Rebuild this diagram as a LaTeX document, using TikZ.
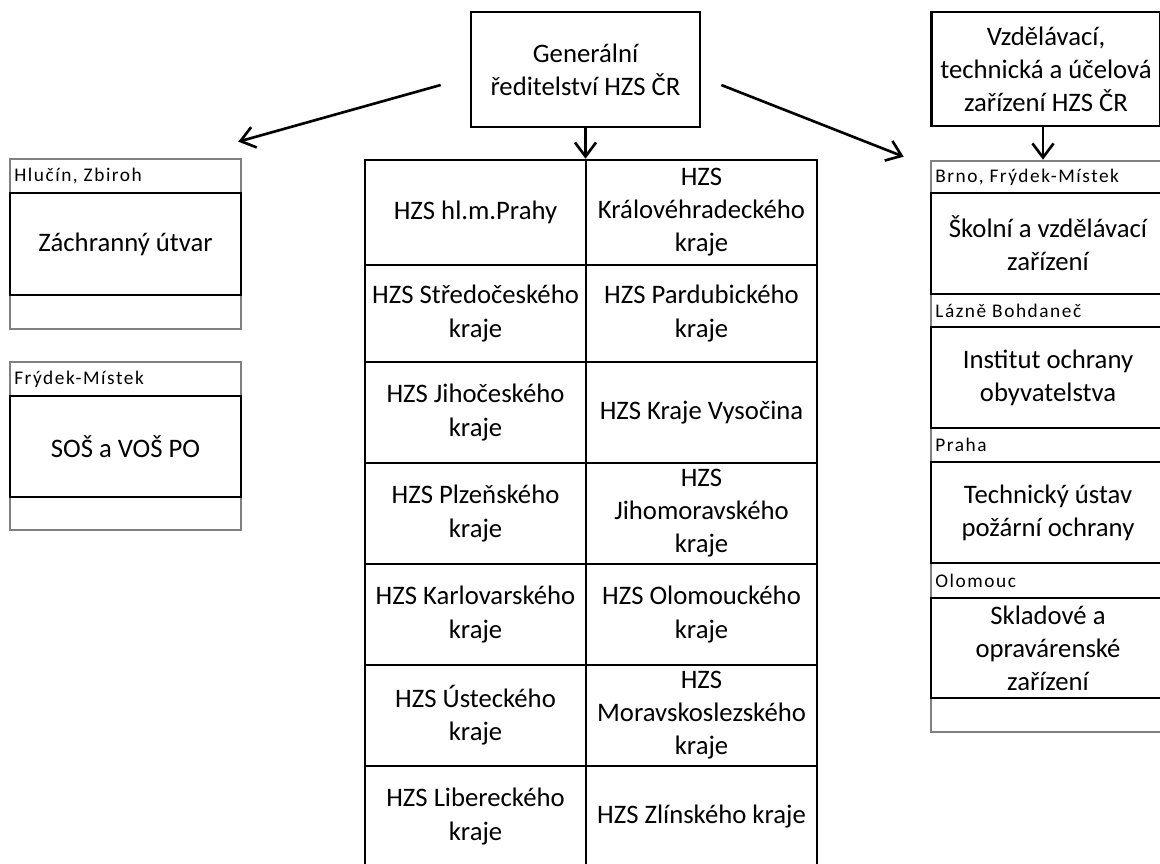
\documentclass[tikz,border=0pt]{standalone}
\usepackage{fontspec}
\setmainfont{Carlito}
\usetikzlibrary{arrows.meta,calc}
\definecolor{outl}{RGB}{128,128,128}
\begin{document}
\begin{tikzpicture}[x=0.02cm,y=-0.02cm,
  box/.style 2 args={draw=black,line width=1.5pt,align=center,inner sep=0pt,
    minimum width=#1*0.02cm,minimum height=#2*0.02cm,
    font=\fontsize{15.2}{18.8}\selectfont},
  outer/.style 2 args={draw=outl,line width=1.5pt,inner sep=0pt,
    minimum width=#1*0.02cm,minimum height=#2*0.02cm},
  lbl/.style={anchor=west,inner sep=0pt,font=\fontsize{11}{13}\selectfont\addfontfeatures{LetterSpace=8}},
  arr/.style={line width=1.5pt,-{Straight Barb[length=8pt,width=12pt]}}]
\useasboundingbox (0,0) rectangle (1160,863);
\clip (0,0) rectangle (1160,863);

% top boxes
\node[box={229}{115}] (gen) at (585.5,69.5) {Generální\\ředitelství HZS ČR};
\node[box={229}{114}] (vzd) at (1046,69) {Vzdělávací,\\technická a účelová\\zařízení HZS ČR};

% left column
\node[outer={231}{170}] (zbo) at (125.5,244) {};
\node[box={231}{102}] (zb) at (125.5,244) {Záchranný útvar};
\node[lbl] (zbh) at (14,176.5) {Hlučín, Zbiroh};

\node[outer={231}{168}] (sso) at (125.5,446) {};
\node[box={231}{101}] (ss) at (125.5,446.5) {SOŠ a VOŠ PO};
\node[lbl] (ssh) at (14,379.5) {Frýdek-Místek};

% table
\node[box={221}{105}] (a1) at (475.5,212.5) {HZS hl.m.Prahy};
\node[box={231}{105}] (b1) at (701.5,212.5) {HZS\\Královéhradeckého\\kraje};
\node[box={221}{97}] (a2) at (475.5,313.5) {HZS Středočeského\\kraje};
\node[box={231}{97}] (b2) at (701.5,313.5) {HZS Pardubického\\kraje};
\node[box={221}{101}] (a3) at (475.5,412.5) {HZS Jihočeského\\kraje};
\node[box={231}{101}] (b3) at (701.5,412.5) {HZS Kraje Vysočina};
\node[box={221}{101}] (a4) at (475.5,513.5) {HZS Plzeňského\\kraje};
\node[box={231}{101}] (b4) at (701.5,513.5) {HZS\\Jihomoravského\\kraje};
\node[box={221}{101}] (a5) at (475.5,614.5) {HZS Karlovarského\\kraje};
\node[box={231}{101}] (b5) at (701.5,614.5) {HZS Olomouckého\\kraje};
\node[box={221}{101}] (a6) at (475.5,715.5) {HZS Ústeckého\\kraje};
\node[box={231}{101}] (b6) at (701.5,715.5) {HZS\\Moravskoslezského\\kraje};
\node[box={221}{101}] (a7) at (475.5,816.5) {HZS Libereckého\\kraje};
\node[box={231}{101}] (b7) at (701.5,816.5) {HZS Zlínského kraje};

% right column
\node[outer={234}{571}] (rc) at (1048,446.5) {};
\node[box={234}{101}] (r1) at (1048,243.5) {Školní a vzdělávací\\zařízení};
\node[box={234}{101}] (r2) at (1048,377.5) {Institut ochrany\\obyvatelstva};
\node[box={234}{101}] (r3) at (1048,512.5) {Technický ústav\\požární ochrany};
\node[box={234}{100}] (r4) at (1048,648) {Skladové a\\opravárenské\\zařízení};
\node[lbl] (r1h) at (935,177) {Brno, Frýdek-Místek};
\node[lbl] (r2h) at (935,310.5) {Lázně Bohdaneč};
\node[lbl] (r3h) at (935,445) {Praha};
\node[lbl] (r4h) at (935,580.5) {Olomouc};

% arrows
\draw[arr] ($(gen.west)+(-29,15.5)$) -- ($(zbo.north east)+(-4,-16)$);
\draw[arr] ($(gen.east)+(20,15.5)$) -- ($(rc.north west)+(-26,-3)$);
\draw[arr] (gen.south) -- (gen.south |- a1.north);
\draw[arr] ($(vzd.south)+(-3,0)$) -- ($(vzd.south |- rc.north)+(-3,0)$);
\end{tikzpicture}
\end{document}
